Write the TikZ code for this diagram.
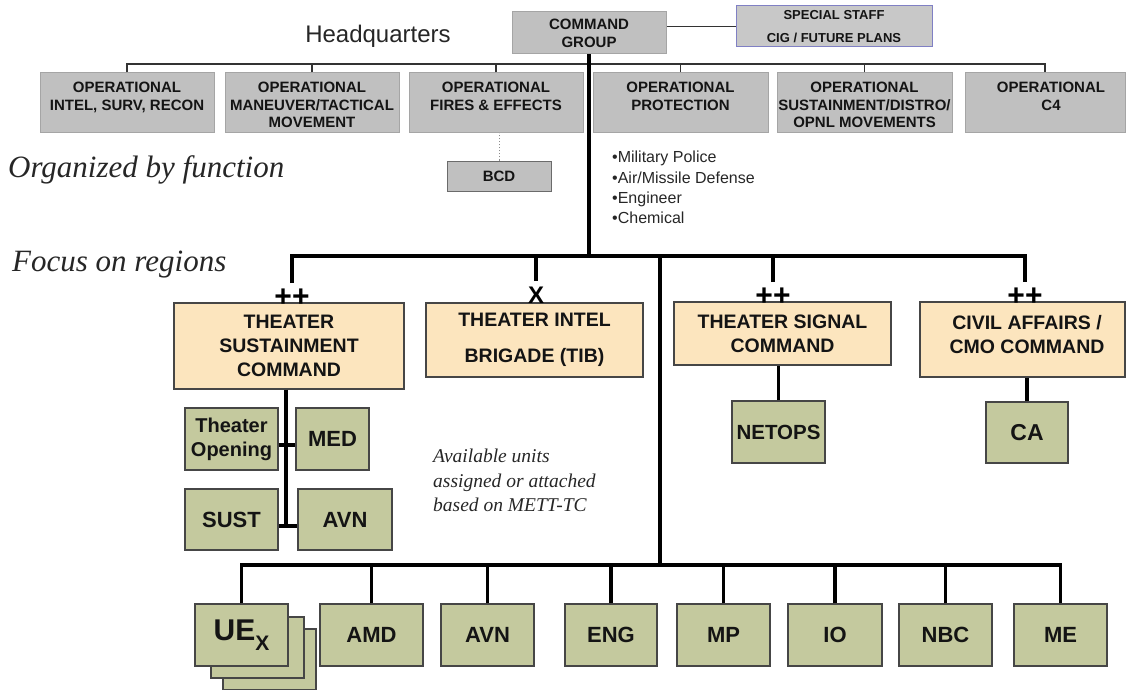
\documentclass[tikz,border=0pt]{standalone}
\usepackage{fontspec}
\setmainfont{Liberation Sans}
\newfontfamily\serifit{Liberation Serif}
\usetikzlibrary{calc}
\definecolor{opgray}{RGB}{192,192,192}
\definecolor{opedge}{RGB}{165,165,165}
\definecolor{ssgray}{RGB}{200,200,200}
\definecolor{ssedge}{RGB}{128,128,196}
\definecolor{tanfill}{RGB}{252,229,190}
\definecolor{grnfill}{RGB}{196,201,158}
\definecolor{edgedark}{RGB}{70,70,70}
\definecolor{txt}{RGB}{20,20,20}
\begin{document}
\begin{tikzpicture}[x=1pt,y=-1pt,
  box/.style={draw, inner sep=0pt, align=center, text=txt},
  opbox/.style={box, fill=opgray, draw=opedge, line width=1pt, minimum height=60pt},
  optext/.style={anchor=north, inner sep=0pt, align=center, text=txt, font=\bfseries\fontsize{15}{17.5}\selectfont},
  tanbox/.style={box, fill=tanfill, draw=edgedark, line width=1.2pt, font=\bfseries\fontsize{19.5}{24}\selectfont},
  grnbox/.style={box, fill=grnfill, draw=edgedark, line width=1.2pt, font=\bfseries\fontsize{22}{24}\selectfont},
  trunk/.style={line width=3.2pt, draw=black, line join=miter},
  thinline/.style={line width=1.2pt, draw=black!80},
  echelon/.style={inner sep=0pt, anchor=south, font=\bfseries\fontsize{30}{30}\selectfont},
  italtext/.style={inner sep=0pt, text=black!85, font=\serifit\itshape},
]
\useasboundingbox (0,0) rectangle (1127,690);

% headquarters row
\node[font=\fontsize{24}{24}\selectfont, text=black!85] (hq) at (378,36) {Headquarters};
\node[opbox, minimum width=154pt, minimum height=42pt, font=\bfseries\fontsize{15}{18}\selectfont] (cg) at (589,33) {COMMAND\\GROUP};
\node[box, fill=ssgray, draw=ssedge, line width=1pt, minimum width=196pt, minimum height=41pt, font=\bfseries\fontsize{13}{23}\selectfont] (ss) at (834,26.5) {SPECIAL STAFF\\CIG / FUTURE PLANS};
\draw[thinline] (ss.west) -- (ss.west -| cg.east);

\node[opbox, minimum width=174pt] (o1) at (127,103) {};
\node[opbox, minimum width=174pt] (o2) at (312,103) {};
\node[opbox, minimum width=174pt] (o3) at (496,103) {};
\node[opbox, minimum width=175pt] (o4) at (680.5,103) {};
\node[opbox, minimum width=175pt] (o5) at (864.5,103) {};
\node[opbox, minimum width=160pt] (o6) at (1045,103) {};
\node[optext] (ot1) at (127,82) {OPERATIONAL\\INTEL, SURV, RECON};
\node[optext] (ot2) at (312,82) {OPERATIONAL\\MANEUVER/TACTICAL\\MOVEMENT};
\node[optext] (ot3) at (496,82) {OPERATIONAL\\FIRES \& EFFECTS};
\node[optext] (ot4) at (680.5,82) {OPERATIONAL\\PROTECTION};
\node[optext] (ot5) at (864.5,82) {OPERATIONAL\\SUSTAINMENT/DISTRO/\\OPNL MOVEMENTS};
\node[optext] (ot6) at (1051,82) {OPERATIONAL\\C4};

\coordinate (hb) at (589,64);
\draw[thinline] (o1.north) |- (hb) -| (o6.north);
\foreach \n in {o2,o3,o4,o5} \draw[thinline] (\n.north) -- (\n.north |- hb);

\node[box, fill=opgray, draw=edgedark!80, line width=1pt, minimum width=104pt, minimum height=30pt, font=\bfseries\fontsize{15}{15}\selectfont] (bcd) at (499,176) {BCD};
\draw[line width=1pt, draw=black!45, dotted] (bcd.north) -- (bcd.north |- o3.south);

% side texts
\node[italtext, anchor=west, font=\serifit\itshape\fontsize{31}{31}\selectfont] (org) at (8,170) {Organized by function};
\node[italtext, anchor=west, font=\serifit\itshape\fontsize{31}{31}\selectfont] (foc) at (12,265) {Focus on regions};
\node[inner sep=0pt, anchor=north west, align=left, text=black!85, font=\fontsize{16}{20.3}\selectfont] (blt) at (612,151) {•Military Police\\•Air/Missile Defense\\•Engineer\\•Chemical};
\node[italtext, anchor=north west, align=left, font=\serifit\itshape\fontsize{19.5}{24.5}\selectfont] (avl) at (433,449) {Available units\\assigned or attached\\based on METT-TC};

% regional commands
\node[tanbox, minimum width=230pt, minimum height=86pt] (tsc) at (289,346) {THEATER\\SUSTAINMENT\\COMMAND};
\node[tanbox, minimum width=217pt, minimum height=74pt] (tib) at (534.5,340) {THEATER INTEL\\[12pt]BRIGADE (TIB)};
\node[tanbox, minimum width=217pt, minimum height=63pt] (tsig) at (782.5,333.5) {THEATER SIGNAL\\COMMAND};
\node[tanbox, minimum width=205pt, minimum height=75pt] (cmo) at (1022.5,339.5) {};
\node[inner sep=0pt, align=center, text=txt, font=\bfseries\fontsize{19.5}{24}\selectfont] (cmot) at (1027,334.5) {CIVIL AFFAIRS /\\CMO COMMAND};

\node[echelon] (p1) at (292,307) {++};
\node[echelon, font=\bfseries\fontsize{24}{24}\selectfont] (x1) at (536,304) {X};
\node[echelon] (p3) at (773,306) {++};
\node[echelon] (p4) at (1025,306) {++};

\coordinate (jb) at (589,256);
\coordinate (jv) at (660,256);
\coordinate (bb) at (660,565);
\draw[trunk] (cg.south) -- (jb);
\draw[trunk] ([yshift=6pt]p1.north) |- (jb) -| ([yshift=6pt]p4.north);
\draw[trunk] ([yshift=6pt]x1.north) -- (x1.north |- jb);
\draw[trunk] ([yshift=6pt]p3.north) -- (p3.north |- jb);
\draw[trunk] (jv) -- (bb);

% sustainment group
\node[grnbox, minimum width=93pt, minimum height=62pt, font=\bfseries\fontsize{20}{24}\selectfont] (to) at (231.5,439) {Theater\\Opening};
\node[grnbox, minimum width=73pt, minimum height=62pt] (med) at (332.5,439) {MED};
\node[grnbox, minimum width=93pt, minimum height=61pt] (sust) at (231.5,519.5) {SUST};
\node[grnbox, minimum width=94pt, minimum height=61pt] (avn1) at (345,519.5) {AVN};
\coordinate (sg) at (286,526);
\draw[trunk] (tsc.south -| sg) -- (sg);
\draw[trunk] ([yshift=-6pt]to.east) -- ([yshift=-6pt]med.west);
\draw[trunk] ([yshift=-6.5pt]sust.east) -- ([yshift=-6.5pt]avn1.west);

\node[grnbox, minimum width=93pt, minimum height=62pt, font=\bfseries\fontsize{20.5}{24}\selectfont] (netops) at (778.5,432) {NETOPS};
\node[grnbox, minimum width=82pt, minimum height=61pt, font=\bfseries\fontsize{23}{24}\selectfont] (ca) at (1027,432.5) {CA};
\draw[trunk] (netops.north) -- (netops.north |- tsig.south);
\draw[trunk] (ca.north) -- (ca.north |- cmo.south);

% bottom row
\newcommand{\uex}{\fontsize{30}{30}\selectfont UE\raisebox{-10pt}{\fontsize{21}{21}\selectfont X}}
\node[grnbox, minimum width=93pt, minimum height=61pt] (ue3) at (269.5,659.5) {};
\node[grnbox, minimum width=93pt, minimum height=61pt] (ue2) at (257.5,647.5) {};
\node[grnbox, minimum width=93pt, minimum height=62pt] (ue1) at (241.5,635) {\uex};
\node[grnbox, minimum width=103pt, minimum height=62pt] (amd) at (371.5,635) {AMD};
\node[grnbox, minimum width=93pt, minimum height=62pt] (avn2) at (487.5,635) {AVN};
\node[grnbox, minimum width=92pt, minimum height=62pt] (eng) at (611,635) {ENG};
\node[grnbox, minimum width=93pt, minimum height=62pt] (mp) at (723.5,635) {MP};
\node[grnbox, minimum width=94pt, minimum height=62pt] (io) at (835,635) {IO};
\node[grnbox, minimum width=93pt, minimum height=62pt] (nbc) at (945.5,635) {NBC};
\node[grnbox, minimum width=93pt, minimum height=62pt] (me) at (1060.5,635) {ME};
\draw[trunk] (ue1.north) |- (bb) -| (me.north);
\foreach \n in {amd,avn2,eng,mp,io,nbc} \draw[trunk] (\n.north) -- (\n.north |- bb);
\end{tikzpicture}
\end{document}
